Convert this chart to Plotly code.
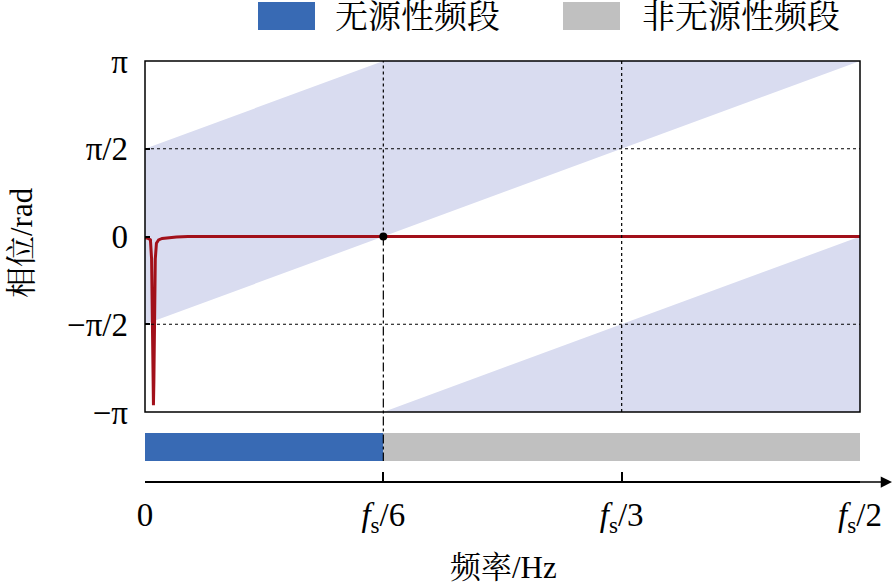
import math
import plotly.graph_objects as go

PI = math.pi
# ---- data ----
x_ticks = [0, 1/6, 1/3, 1/2]                      # frequency in units of fs
x_ticktext = ["0", "<i>f</i><sub>s</sub>/6", "<i>f</i><sub>s</sub>/3", "<i>f</i><sub>s</sub>/2"]
y_ticks = [-PI, -PI/2, 0, PI/2, PI]
y_ticktext = ["\u2212\u03c0", "\u2212\u03c0/2", "0", "\u03c0/2", "\u03c0"]
y_grid = [-PI/2, PI/2]

# shaded passivity-angle band (wrapped), vertices (freq, phase)
band1_x = [0, 1/6, 1/2, 0]
band1_y = [PI/2, PI, PI, -PI/2]
band2_x = [1/6, 1/2, 1/2]
band2_y = [-PI, 0, -PI]

# phase curve
curve_x = [0, 0.002, 0.0038, 0.0046, 0.0052, 0.0056, 0.0059, 0.0062, 0.0066, 0.0072,
           0.008, 0.0095, 0.012, 0.016, 0.022, 0.03, 0.1, 0.3, 0.5]
curve_y = [-0.02, -0.03, -0.06, -0.4, -1.6, -2.6, -3.02, -2.6, -1.4, -0.4,
           -0.12, -0.06, -0.035, -0.02, -0.008, 0, 0, 0, 0]

marker_x = [1/6]
marker_y = [0]

passive_band = [0, 1/6]
nonpassive_band = [1/6, 1/2]

legend_names = ["无源性频段", "非无源性频段"]
BLUE = "rgb(56,106,180)"
GRAY = "rgb(192,192,192)"
SHADE = "rgb(217,220,240)"
RED = "rgb(162,16,26)"

FONT = "Liberation Serif, 'Noto Serif CJK SC', 'Noto Sans CJK SC', serif"

W, H = 894, 585
L, R, T, B = 145, 860, 61, 482          # pixel coords of plotting region
def px(xp): return (xp - L) / (R - L)
def py(yp): return (B - yp) / (B - T)

fig = go.Figure()

fig.add_trace(go.Scatter(x=band1_x, y=band1_y, fill="toself", fillcolor=SHADE,
                         line=dict(width=0), mode="lines", hoverinfo="skip", showlegend=False))
fig.add_trace(go.Scatter(x=band2_x, y=band2_y, fill="toself", fillcolor=SHADE,
                         line=dict(width=0), mode="lines", hoverinfo="skip", showlegend=False))

fig.add_trace(go.Scatter(x=curve_x, y=curve_y, mode="lines",
                         line=dict(color=RED, width=3), showlegend=False))
fig.add_trace(go.Scatter(x=marker_x, y=marker_y, mode="markers",
                         marker=dict(color="black", size=8), showlegend=False))

fig.add_trace(go.Bar(x=[passive_band[1] - passive_band[0]], base=[passive_band[0]], y=[0],
                     orientation="h", width=1, marker=dict(color=BLUE, line=dict(width=0)),
                     xaxis="x", yaxis="y2", showlegend=False, name=legend_names[0]))
fig.add_trace(go.Bar(x=[nonpassive_band[1] - nonpassive_band[0]], base=[nonpassive_band[0]], y=[0],
                     orientation="h", width=1, marker=dict(color=GRAY, line=dict(width=0)),
                     xaxis="x", yaxis="y2", showlegend=False, name=legend_names[1]))

main_bottom = py(412)
shapes = []
for g in y_grid:
    shapes.append(dict(type="line", xref="x domain", yref="y", x0=0, x1=1, y0=g, y1=g,
                       line=dict(color="black", width=1.2, dash="dot"), layer="above"))
shapes += [
    # fs/3 dotted vertical
    dict(type="line", xref="x", yref="y", x0=x_ticks[2], x1=x_ticks[2], y0=-PI, y1=PI,
         line=dict(color="black", width=1.2, dash="dot"), layer="above"),
    # fs/6 dotted upper half
    dict(type="line", xref="x", yref="y", x0=x_ticks[1], x1=x_ticks[1], y0=0, y1=PI,
         line=dict(color="black", width=1.2, dash="dot"), layer="above"),
    # fs/6 dash-dot lower part down through the band bar
    dict(type="line", xref="x", yref="paper", x0=x_ticks[1], x1=x_ticks[1], y0=py(236.5), y1=py(461),
         line=dict(color="black", width=1.2, dash="dashdot"), layer="above"),
    # box
    dict(type="rect", xref="x domain", yref="y domain", x0=0, x1=1, y0=0, y1=1,
         line=dict(color="black", width=1.5), layer="above"),
]

annotations = [
    # x-axis arrow
    dict(x=px(892), y=0, xref="paper", yref="paper", ax=-34, ay=0, axref="pixel", ayref="pixel",
         showarrow=True, arrowhead=2, arrowsize=1.5, arrowwidth=1.5, arrowcolor="black", text=""),
    dict(x=px(503), y=py(567), xref="paper", yref="paper", text="频率/Hz", showarrow=False,
         font=dict(family=FONT, size=31, color="black"), xanchor="center", yanchor="middle"),
    dict(x=px(21), y=py(243), xref="paper", yref="paper", text="相位/rad", showarrow=False,
         textangle=-90, font=dict(family=FONT, size=31, color="black"), xanchor="center", yanchor="middle"),
]

# custom legend
leg = [(258, 315, 333, legend_names[0], BLUE), (563, 620, 640, legend_names[1], GRAY)]
for x0, x1, tx, name, col in leg:
    shapes.append(dict(type="rect", xref="paper", yref="paper", x0=px(x0), x1=px(x1),
                       y0=py(30), y1=py(2), fillcolor=col, line=dict(width=0)))
    annotations.append(dict(x=px(tx), y=py(17), xref="paper", yref="paper", text=name,
                            showarrow=False, xanchor="left", yanchor="middle",
                            font=dict(family=FONT, size=33, color="black")))

fig.update_layout(
    width=W, height=H,
    margin=dict(l=L, r=W - R, t=T, b=H - B, pad=0),
    paper_bgcolor="white", plot_bgcolor="white",
    showlegend=False,
    barmode="overlay",
    xaxis=dict(domain=[0, 1], range=[0, 0.5], anchor="free", position=0,
               tickvals=x_ticks, ticktext=x_ticktext, ticks="inside", ticklen=9,
               tickwidth=1.5, tickcolor="black", showline=True, linecolor="black", linewidth=1.5,
               showgrid=False, zeroline=False, ticklabelstandoff=4,
               tickfont=dict(family=FONT, size=33, color="black")),
    yaxis=dict(domain=[main_bottom, 1], range=[-PI, PI], anchor="x",
               tickvals=y_ticks, ticktext=y_ticktext, ticks="inside", ticklen=5,
               tickwidth=1.5, tickcolor="black", showline=False,
               showgrid=False, zeroline=False, ticklabelstandoff=16,
               tickfont=dict(family=FONT, size=33, color="black")),
    yaxis2=dict(domain=[py(461), py(433)], range=[-0.5, 0.5], anchor="x", visible=False),
    shapes=shapes,
    annotations=annotations,
)

fig.write_html("out.html", config={"displayModeBar": False},
               post_script="document.body.style.margin='0';document.body.style.overflow='hidden';")
